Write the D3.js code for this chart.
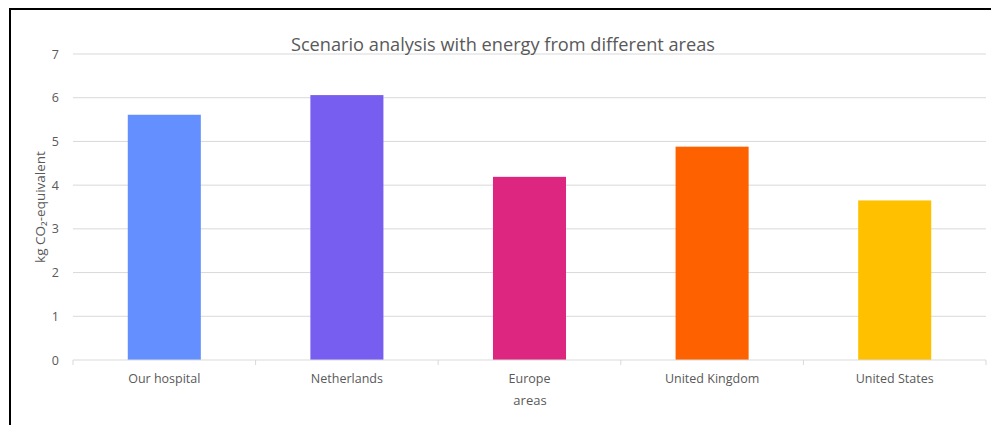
<!DOCTYPE html>
<html>
<head>
<meta charset="utf-8">
<script src="https://cdn.jsdelivr.net/npm/d3@7"></script>
<style>
  body { margin: 0; background: #fff; }
  svg text { font-family: "Open Sans", "Noto Sans", sans-serif; fill: #595959; }
</style>
</head>
<body>
<svg id="chart"></svg>
<script>
// data
const areas = ["Our hospital", "Netherlands", "Europe", "United Kingdom", "United States"];
const co2Values = [5.61, 6.06, 4.19, 4.88, 3.65];
const barColors = ["#648FFF", "#785EF0", "#DC267F", "#FE6100", "#FFC000"];
const yTicks = [0, 1, 2, 3, 4, 5, 6, 7];

const width = 991, height = 425;
const margin = { top: 54, right: 5, bottom: 65, left: 73 };

const svg = d3.select("#chart")
    .attr("width", width)
    .attr("height", height);

// black frame (left + top)
svg.append("path")
    .attr("d", `M10,${height} L10,9 L${width},9`)
    .attr("fill", "none")
    .attr("stroke", "#000")
    .attr("stroke-width", 2);

const x = d3.scaleBand()
    .domain(areas)
    .range([margin.left, width - margin.right])
    .paddingInner(0.6)
    .paddingOuter(0.3);

const y = d3.scaleLinear()
    .domain([0, 7])
    .range([height - margin.bottom, margin.top]);

// gridlines
svg.append("g")
    .selectAll("line")
    .data(yTicks.slice(1))
    .join("line")
    .attr("x1", margin.left)
    .attr("x2", width - margin.right)
    .attr("y1", d => y(d))
    .attr("y2", d => y(d))
    .attr("stroke", "#d9d9d9")
    .attr("stroke-width", 1);

// y tick labels
const yAxis = d3.axisLeft(y).tickValues(yTicks).tickFormat(d3.format("d")).tickSize(0).tickPadding(14);
const yAxisG = svg.append("g")
    .attr("transform", `translate(${margin.left},0)`)
    .call(yAxis);
yAxisG.select(".domain").remove();
yAxisG.selectAll("text")
    .attr("font-size", 12.5)
    .style("font-family", null)
    .style("fill", "#595959");

// bars
svg.append("g")
    .selectAll("rect")
    .data(areas)
    .join("rect")
    .attr("x", d => x(d))
    .attr("width", x.bandwidth())
    .attr("y", (d, i) => y(co2Values[i]))
    .attr("height", (d, i) => y(0) - y(co2Values[i]))
    .attr("fill", (d, i) => barColors[i]);

// x axis line + category boundary ticks
const plotW = width - margin.right - margin.left;
const xAxisG = svg.append("g");
xAxisG.append("line")
    .attr("x1", margin.left)
    .attr("x2", width - margin.right)
    .attr("y1", y(0))
    .attr("y2", y(0))
    .attr("stroke", "#d9d9d9");
xAxisG.selectAll("line.tick")
    .data(d3.range(areas.length + 1))
    .join("line")
    .attr("class", "tick")
    .attr("x1", i => margin.left + i * plotW / areas.length)
    .attr("x2", i => margin.left + i * plotW / areas.length)
    .attr("y1", y(0))
    .attr("y2", y(0) + 5)
    .attr("stroke", "#d9d9d9");

xAxisG.selectAll("text")
    .data(areas)
    .join("text")
    .attr("x", d => x(d) + x.bandwidth() / 2)
    .attr("y", y(0) + 23)
    .attr("text-anchor", "middle")
    .attr("font-size", 12.5)
    .text(d => d);

// titles
svg.append("text")
    .attr("x", 503)
    .attr("y", 51)
    .attr("text-anchor", "middle")
    .attr("font-size", 18.2)
    .text("Scenario analysis with energy from different areas");

svg.append("text")
    .attr("x", 530)
    .attr("y", 405)
    .attr("text-anchor", "middle")
    .attr("font-size", 13)
    .text("areas");

svg.append("text")
    .attr("transform", `translate(45,${(y(0) + y(7)) / 2}) rotate(-90)`)
    .attr("text-anchor", "middle")
    .attr("font-size", 13.5)
    .text("kg CO₂-equivalent");
</script>
</body>
</html>
